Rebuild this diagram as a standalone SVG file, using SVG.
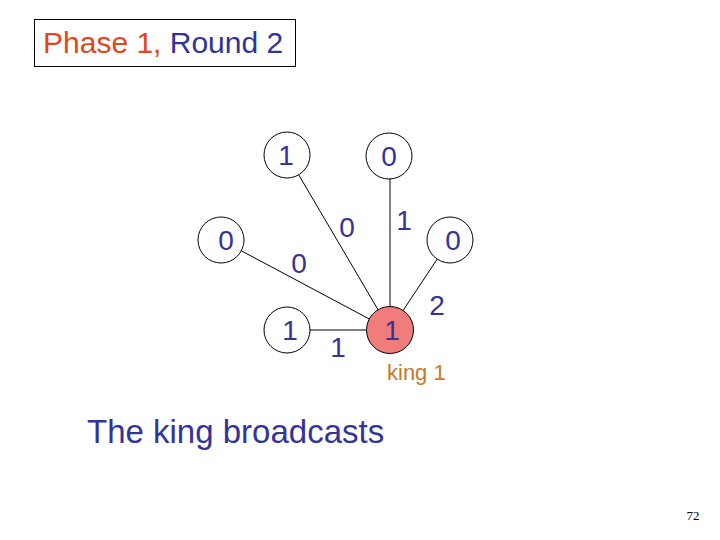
<svg xmlns="http://www.w3.org/2000/svg" width="720" height="540" viewBox="0 0 720 540">
<style>
.node{fill:#ffffff;stroke:#000000;stroke-width:1}
.king{fill:#F07C7C;stroke:#000000;stroke-width:1}
.num{font-family:"Liberation Sans",Arial,sans-serif;font-size:28px;fill:#333399;text-anchor:middle}
.edge{stroke:#000000;stroke-width:1;fill:none}
</style>
<rect x="0" y="0" width="720" height="540" fill="#ffffff"/>
<g id="title">
<rect x="34.5" y="19.5" width="261" height="47" fill="#ffffff" stroke="#000000" stroke-width="1"/>
<text x="43" y="53" font-family="Liberation Sans,Arial,sans-serif" font-size="30"><tspan fill="#E0471B">Phase 1,</tspan><tspan fill="#333399"> Round 2</tspan></text>
</g>
<g id="connectors">
<line class="edge" x1="298.7" y1="174.8" x2="378.3" y2="310.2"/>
<line class="edge" x1="390" y1="179" x2="390" y2="306.5"/>
<line class="edge" x1="241.3" y1="250.8" x2="369.7" y2="319.2"/>
<line class="edge" x1="437.2" y1="259.1" x2="402.8" y2="310.9"/>
<line class="edge" x1="310" y1="330" x2="366.5" y2="330"/>
</g>
<g id="edge-labels">
<text class="num" x="347" y="237">0</text>
<text class="num" x="404" y="230">1</text>
<text class="num" x="299" y="273">0</text>
<text class="num" x="437" y="315">2</text>
<text class="num" x="338" y="357">1</text>
</g>
<g id="n-top-left"><circle class="node" cx="287" cy="155" r="23"/><text class="num" x="286" y="165">1</text></g>
<g id="n-top-right"><circle class="node" cx="389" cy="156" r="23"/><text class="num" x="389" y="166">0</text></g>
<g id="n-left"><circle class="node" cx="221" cy="240" r="23"/><text class="num" x="226" y="250">0</text></g>
<g id="n-right"><circle class="node" cx="450" cy="240" r="23"/><text class="num" x="453" y="250">0</text></g>
<g id="n-bottom-left"><circle class="node" cx="287" cy="330" r="23"/><text class="num" x="290" y="340">1</text></g>
<g id="n-king"><circle class="king" cx="390" cy="330" r="23.5"/><text class="num" x="392" y="340">1</text></g>
<g id="king-label"><text x="387" y="380" font-family="Liberation Sans,Arial,sans-serif" font-size="22" fill="#C87A26">king 1</text></g>
<g id="caption"><text x="87" y="443" font-family="Liberation Sans,Arial,sans-serif" font-size="33" fill="#333399">The king broadcasts</text></g>
<g id="page"><text x="693" y="520" font-family="Liberation Serif,Times New Roman,serif" font-size="13" fill="#000000" text-anchor="middle">72</text></g>
</svg>
